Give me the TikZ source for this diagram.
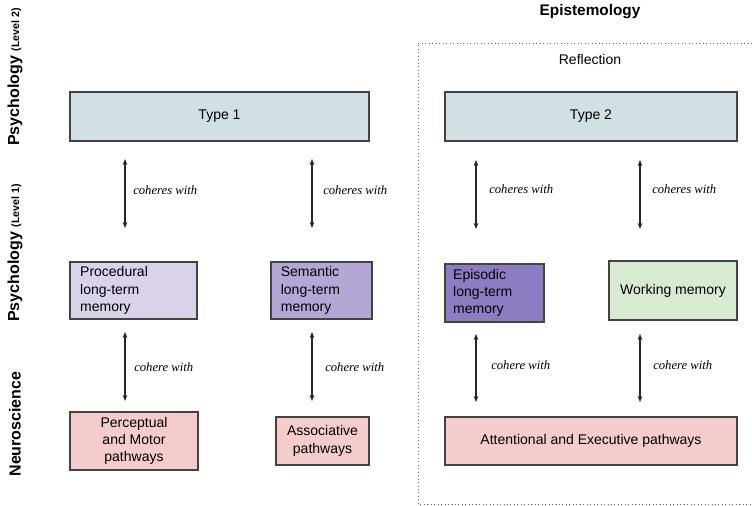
\documentclass[tikz,border=0pt]{standalone}
\usepackage{fontspec}
\setmainfont{Liberation Sans}
\newfontfamily\serifit{Liberation Serif}
\usetikzlibrary{arrows.meta}
\definecolor{typeblue}{HTML}{D0E0E3}
\definecolor{lav1}{HTML}{D9D2E9}
\definecolor{lav2}{HTML}{B4A7D6}
\definecolor{lav3}{HTML}{8E7CC3}
\definecolor{mint}{HTML}{D9EAD3}
\definecolor{pinkbox}{HTML}{F4CCCC}
\definecolor{edge}{HTML}{434343}
\tikzset{
  box/.style={draw=edge, line width=0.9pt, inner sep=0pt, font=\fontsize{10.5}{13}\selectfont, align=center},
  lbox/.style={box, align=left},
  arr/.style={{Stealth[length=4.5pt,width=3.5pt]}-{Stealth[length=4.5pt,width=3.5pt]}, line width=0.9pt, draw=black!85},
  lab/.style={anchor=west, inner sep=0pt, font=\serifit\itshape\fontsize{9.5}{11}\selectfont},
  side/.style={rotate=90, inner sep=0pt, font=\bfseries\fontsize{12}{14}\selectfont},
}
\begin{document}
\begin{tikzpicture}[x=0.75pt,y=-0.75pt]
\useasboundingbox (0,0) rectangle (752,506);
% dotted frame
\draw[dotted, line width=0.6pt, draw=black!60] (752,43) -- (418,43) -- (418,504) -- (752,504);
\node[font=\bfseries\fontsize{11.5}{13}\selectfont] (epi) at (590,12) {Epistemology};
\node[font=\fontsize{10.5}{12}\selectfont] (refl) at (590,59) {Reflection};
% side labels
\node[side] (lv2) at (15,77) {Psychology {\fontsize{8}{9}\selectfont (Level 2)}};
\node[side] (lv1) at (15,253) {Psychology {\fontsize{8}{9}\selectfont (Level 1)}};
\node[side] (neu) at (15,424) {Neuroscience};
% top boxes
\node[box, fill=typeblue, minimum width=224.25pt, minimum height=36.75pt] (t1) at (219.5,116.5) {Type 1};
\node[box, fill=typeblue, minimum width=219pt, minimum height=36.75pt] (t2) at (591,116.5) {Type 2};
% middle boxes
\node[lbox, fill=lav1, minimum width=95.25pt, minimum height=42.75pt, text width=80pt] (proc) at (133.5,290.5) {Procedural\\long-term\\memory};
\node[lbox, fill=lav2, minimum width=75.75pt, minimum height=42.75pt, text width=61pt] (sem) at (321.5,290.5) {Semantic\\long-term\\memory};
\node[lbox, fill=lav3, minimum width=74.25pt, minimum height=43.5pt, text width=62pt] (epis) at (494.5,293) {Episodic\\long-term\\memory};
\node[box, fill=mint, minimum width=96pt, minimum height=44.25pt] (work) at (673,290.5) {Working memory};
% bottom boxes
\node[box, fill=pinkbox, minimum width=96pt, minimum height=43.5pt] (perc) at (134,441) {Perceptual\\and Motor\\pathways};
\node[box, fill=pinkbox, minimum width=69.75pt, minimum height=36pt] (assoc) at (322.5,441) {Associative\\pathways};
\node[box, fill=pinkbox, minimum width=219pt, minimum height=36pt] (attn) at (591,441) {Attentional and Executive pathways};
% arrow end points
\coordinate (a1t) at (125,159); \coordinate (a1b) at (125,228);
\coordinate (a2t) at (312,159); \coordinate (a2b) at (312,228);
\coordinate (a3t) at (476,160); \coordinate (a3b) at (476,229);
\coordinate (a4t) at (640,160); \coordinate (a4b) at (640,229);
\coordinate (b1t) at (125,332); \coordinate (b1b) at (125,401);
\coordinate (b2t) at (312,332); \coordinate (b2b) at (312,401);
\coordinate (b3t) at (476,334); \coordinate (b3b) at (476,402);
\coordinate (b4t) at (640,334); \coordinate (b4b) at (640,402);
\draw[arr] (a1t) -- (a1b);
\draw[arr] (a2t) -- (a2b);
\draw[arr] (a3t) -- (a3b);
\draw[arr] (a4t) -- (a4b);
\draw[arr] (b1t) -- (b1b);
\draw[arr] (b2t) -- (b2b);
\draw[arr] (b3t) -- (b3b);
\draw[arr] (b4t) -- (b4b);
\node[lab] (la1) at (133,190) {coheres with};
\node[lab] (la2) at (323,190) {coheres with};
\node[lab] (la3) at (489,189) {coheres with};
\node[lab] (la4) at (652,189) {coheres with};
\node[lab] (lb1) at (134,367) {cohere with};
\node[lab] (lb2) at (325,367) {cohere with};
\node[lab] (lb3) at (491,365) {cohere with};
\node[lab] (lb4) at (653,365) {cohere with};
\end{tikzpicture}
\end{document}
